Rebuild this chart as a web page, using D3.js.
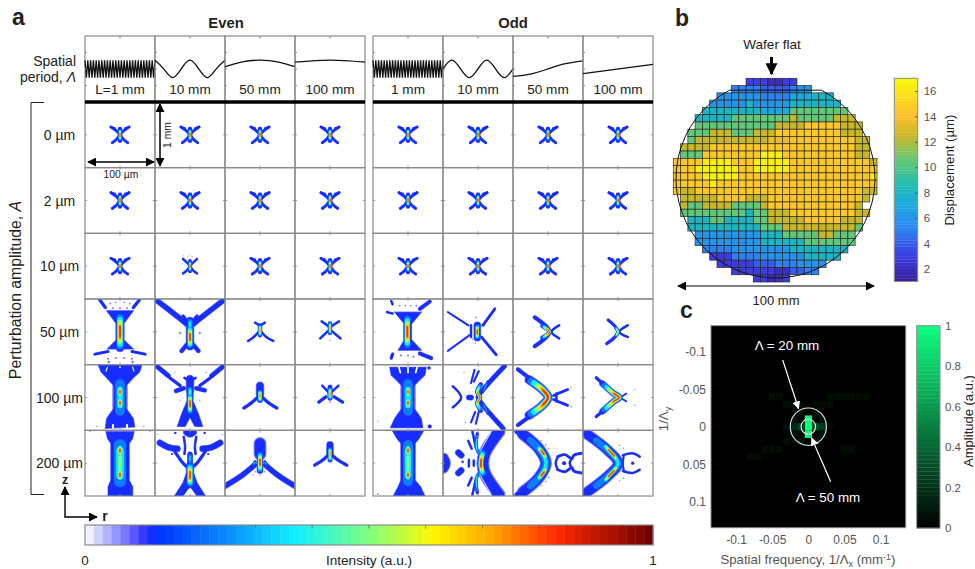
<!DOCTYPE html>
<html>
<head>
<meta charset="utf-8">
<script src="https://cdn.jsdelivr.net/npm/d3@7"></script>
<style>
  html, body { margin: 0; background: #fff; }
  svg { display: block; }
  text { font-family: "Liberation Sans", Arial, sans-serif; fill: #222; }
</style>
</head>
<body>
<script>
(function () {
  "use strict";

  // ---- panel a: column and row headings
  var evenPeriods = ['L=1 mm', '10 mm', '50 mm', '100 mm'];
  var oddPeriods = ['1 mm', '10 mm', '50 mm', '100 mm'];
  var amplitudes = ['0 µm', '2 µm', '10 µm', '50 µm', '100 µm', '200 µm'];

  // surface profiles, evenly spaced samples over the panel width
  var fineWave = [1,-1,1,-1,1,-1,1,-1,1,-1,1,-1,1,-1,1,-1,1,-1,1,-1,1,-1,1,-1,1,-1,1,-1,1,-1,1,-1,1,-1,1,-1,1,-1,1,-1,1,-1,1,-1,1,-1,1,-1,1,-1,1];
  var evenWaves = [fineWave, [1,0,-1,0,1,0,-1,0,1], [0.26,0.82,1,0.82,0.26], [0.77,1,0.77]];
  var oddWaves = [fineWave, [0,1,0,-1,0,1,0,-1,0], [-0.85,-0.6,0,0.6,0.93], [-0.55,0.52]];

  // intensity patterns: [peak intensity, width, r, z, r, z ...]
  // r in um, z in 1/100 mm, both -50..50 across a panel. width 0 = filled outline
  var xBase = [
    [0.13,3.6,-13,-12,-5,-6,0,0,5,7,11,12], [0.13,3.6,13,-12,5,-6,0,0,-5,7,-11,12],
    [0.13,2.6,-13,-12,-7,-10], [0.13,2.6,13,-12,7,-10],
    [0.13,5.5,0,-9,0,9], [0.85,5,0,-7,0,7]
  ];
  var xScatter = [
    [0.13,3,-10,-11,-4,-5,0,0,5,7,10,11], [0.13,3,10,-11,4,-5,0,0,-5,7,-10,11],
    [0.13,4.5,0,-8,0,8], [0.85,4.5,0,-6,0,6], [0.1,1.2,-3,-14], [0.1,1.2,3,-15], [0.1,1.2,0,-17], [0.1,1.2,-9,-16]
  ];

  var e50a = [
    [0.13,0,-19,-32,19,-32,14,-25,5,-12,5,12,19,26,-18,26,-5,12,-5,-12,-14,-25],
    [0.13,4,-29,-49,-21,-37], [0.13,4,28,-49,19,-37], [0.13,3.5,-36,34,-17,30], [0.13,3.5,36,34,17,30],
    [0.1,2,-14,-43], [0.1,2,-6,-45], [0.1,2,6,-45], [0.1,2,14,-43], [0.1,2.4,-10,-36], [0.1,2.4,0,-36], [0.1,2.4,10,-36],
    [0.1,2.4,-17,41], [0.1,2.4,-6,40], [0.1,2.4,6,40], [0.1,2.4,17,41], [0.1,3,-16,46], [0.1,3,18,46],
    [0.85,11,0,-24,0,24]
  ];
  var e50b = [
    [0.13,7,-49,-49,-14,-20,-5,-12], [0.13,7,49,-49,14,-20,5,-12], [0.13,4,-10,-24,-2,-14], [0.13,4,10,-24,2,-14],
    [0.13,10,0,-16,0,22], [0.13,5.5,0,14,-12,29], [0.13,5.5,0,14,12,29],
    [0.45,9,0,-17,0,-5], [0.85,9,0,-6,0,22], [0.1,2.5,-14,2], [0.1,2.5,14,2], [0.1,1.5,-10,-22], [0.1,1.5,10,-22]
  ];
  var e50c = [
    [0.13,3,-17,14,-9,8,-2,0], [0.13,3,19,14,9,8,2,0], [0.13,5,0,-10,0,5],
    [0.13,3,-7,-14,0,-9], [0.13,3,7,-14,0,-9], [0.8,5.5,0,-9,0,5], [0.1,1.5,0,9]
  ];
  var e50d = [
    [0.13,3,-12,-16,-3,-9,0,-5], [0.13,3,13,-16,3,-9,0,-5], [0.13,3,-14,10,-6,2,0,-4], [0.13,3,15,10,6,2,0,-4],
    [0.13,5,0,-12,0,1], [0.8,5,0,-13,0,2], [0.1,1.5,0,13]
  ];
  var e100a = [
    [0.13,0,-31,-49,31,-49,28,-39,19,-30,7,-16,7,14,19,32,21,45,-21,47,-19,32,-7,14,-7,-16,-19,-30,-27,-39],
    [0,3,-10,46,-10,42], [0,3,10,46,10,42], [0,2.5,0,-46], [0,1.5,-20,-40,-18,-46], [0,1.5,20,-40,18,-46],
    [0.1,1.5,-33,44], [0.1,1.5,34,44], [0.45,18,0,-26,0,26], [0.85,7,0,-14,0,-3], [0.85,7,0,3,0,14]
  ];
  var e100b = [
    [0.13,6,-48,-48,-31,-33], [0.13,6,48,-48,31,-33], [0.13,4,-29,-30,-14,-18], [0.13,4,29,-30,14,-18],
    [0.13,5.5,-20,-10,-9,-14], [0.13,5.5,21,-11,9,-14], [0.13,10,0,-28,0,-10], [0.13,3,-8,-30,0,-24], [0.13,3,8,-30,0,-24],
    [0.13,8,0,-14,0,10], [0.13,0,-4,5,4,5,12,25,18,44,7,44,0,30,-7,44,-18,44,-12,25],
    [0.5,8,0,-14,0,-3], [0.85,8,0,-3,0,22], [0.1,1.5,-22,-38], [0.1,1.5,23,-38], [0.1,1.5,-14,4], [0.1,1.5,14,4]
  ];
  var e100c = [
    [0.13,10,0,-18,0,-4], [0.13,4,-23,16,-11,7,-2,-2], [0.13,4,24,16,11,7,2,-2], [0.8,7,0,-9,0,4], [0.1,2,0,7]
  ];
  var e100d = [
    [0.13,3,-11,-18,-2,-8], [0.13,3,12,-18,2,-8], [0.13,4,-16,7,-6,-1], [0.13,4,18,7,6,-1],
    [0.13,6,0,-16,0,0], [0.8,6,0,-13,0,1], [0.1,2,0,7]
  ];
  var e200a = [
    [0.13,0,-20,-48,20,-48,18,-38,13,-30,13,26,18,36,18,50,-17,50,-17,36,-13,26,-13,-30,-18,-38],
    [0.1,1.5,-43,-48], [0.1,1.5,43,-48], [0.5,22,0,-34,0,34], [0.85,8,0,-25,0,-13], [0.85,8,0,12,0,24]
  ];
  var e200b = [
    [0.13,8,-43,-31,-30,-24,-18,-22], [0.13,8,43,-31,30,-24,18,-22], [0.13,4,-22,-18,-10,0,-4,6], [0.13,4,22,-18,10,0,4,6],
    [0.13,8,-5,-47,0,-44,5,-47], [0.22,3,-9,-40,-7,-25,-8,-14], [0.22,3,9,-40,7,-25,8,-14], [0.13,7,0,-12,0,10],
    [0.13,0,-5,15,5,15,10,30,22,50,10,50,0,35,-10,50,-22,50,-10,30],
    [0.4,6,0,-14,0,0], [0.85,10,0,4,0,32], [0.13,3,-21,-46], [0.13,3,21,-46], [0.1,1.5,-46,-44], [0.1,1.5,46,-44], [0.13,2.5,-26,-14], [0.13,2.5,26,-14]
  ];
  var e200c = [
    [0.13,15,0,-30,0,-14], [0.13,7,-50,35,-25,18,-8,3], [0.13,7,50,35,25,18,8,3], [0.85,8,0,-14,0,11],
    [0.4,4,-7,-2,-9,2], [0.4,4,7,-2,9,2], [0.1,1.8,-7,13], [0.1,1.8,0,18], [0.1,1.8,7,13], [0.1,1.8,-10,18]
  ];
  var e200d = [
    [0.13,9,0,-28,0,-14], [0.13,4,-22,3,-10,-5,-2,-13], [0.13,4,24,3,11,-5,2,-13], [0.8,6,0,-22,0,-5]
  ];
  var o50a = [
    [0.13,0,-19,-30,19,-30,5,-12,5,12,19,28,-14,28,-5,12,-5,-12],
    [0.13,5,31,-46,17,-35], [0.13,3,-30,-30,-22,-28], [0.13,3,-24,-47,-22,-42], [0.13,5,17,33,33,40], [0.13,4,-24,40,-22,34],
    [0.1,2,-12,-40], [0.1,2,-4,-40], [0.1,2,4,-40], [0.1,2,12,-40], [0.1,2.4,-10,36], [0.1,2.4,0,36], [0.1,2.4,8,38],
    [0.85,10,-1,-22,-1,22]
  ];
  var o50b = [
    [0.13,2.5,-43,-30,-14,-10], [0.13,2.5,-43,29,-12,5], [0.13,3,-10,-10,-10,8], [0.13,3.5,24,-35,7,-10], [0.13,3.5,26,35,5,8],
    [0.13,9,-1,-10,-1,9], [0.85,6.5,-1,-9,-1,9], [0.1,1.8,-3,-22], [0.1,1.8,-8,11], [0.1,1.8,-4,17]
  ];
  var o50c = [
    [0.13,5,-19,-22,2,0,-19,22], [0.13,3,16,-10,5,0,16,10], [0.85,5.5,-8,-9,2,0,-8,9]
  ];
  var o50d = [
    [0.13,4,-14,-18,0,0,-16,18], [0.13,3,14,-10,2,0,14,8], [0.8,4.5,-3,-6,0,0,-3,6]
  ];
  var o100a = [
    [0.13,0,-26,-46,26,-46,24,-34,18,-28,7,-16,7,14,19,32,21,46,-25,46,-19,32,-7,14,-7,-16,-18,-28,-24,-34],
    [0,2.5,-13,-46,-11,-38], [0,2.5,0,-46,0,-38], [0,2.5,13,-46,11,-38], [0.13,4,30,-45], [0.13,5,31,44], [0.1,1.5,-43,36],
    [0.45,18,0,-26,0,26], [0.85,6.5,0,-14,0,-3], [0.85,6.5,0,3,0,14]
  ];
  var o100b = [
    [0.13,6,38,-48,5,-9,0,0,5,9,36,47], [0.13,3,-36,-17,-24,0,-36,15], [0.13,7,-13,0,-10,0],
    [0.13,2.5,-5,-42,-10,-22], [0.13,2.5,1,-40,-6,-24], [0.13,2.5,-10,38,-4,22], [0.13,2.5,-3,40,1,22], [0.1,1.5,-20,-38], [0.1,1.5,-18,38],
    [0.4,2.5,14,-25,7,-8], [0.4,2.5,14,25,7,8], [0.85,5.5,4,-20,-1,-8,3,0,-1,8,4,20]
  ];
  var o100c = [
    [0.13,5,-43,-43,-20,-24], [0.13,5,-43,42,-20,24], [0.88,11,-27,-27,-8,-12,0,0,-8,12,-27,27],
    [0.13,3.5,28,-12,14,-6,8,-3], [0.13,3.5,28,12,14,6,8,3], [0.13,3,12,-6,12,6], [0.1,1.6,33,-15], [0.1,1.6,33,14]
  ];
  var o100d = [
    [0.13,4,-31,-30,-20,-19], [0.13,4,-31,29,-20,19], [0.85,8,-22,-21,-6,-6,2,0,-6,6,-22,21],
    [0.13,2,12,-6,6,-2], [0.13,2,12,6,6,2], [0.1,1.5,24,-12], [0.1,1.5,24,12]
  ];
  var o200a = [
    [0.13,0,-22,-49,22,-49,16,-38,10,-30,10,26,18,36,24,50,-21,50,-14,36,-10,26,-10,-30,-16,-38],
    [0.1,2,-43,47], [0.5,18,0,-34,0,34], [0.85,7,0,-25,0,-13], [0.85,7,0,12,0,24]
  ];
  var o200b = [
    [0.13,12,-49,-8,-46,0,-49,8], [0.13,8,-28,-16,-24,-12], [0.13,8,-28,15,-24,11], [0.13,3,-13,-5,-13,5], [0.13,3,-6,-4,-6,4],
    [0.13,3,-22,-2], [0.13,3,-8,-48,-3,-24], [0.13,3,-8,48,-3,24], [0.13,3,-14,-34,-9,-22], [0.13,3,-14,34,-9,22],
    [0.13,15,30,-48,10,-16,7,0,10,16,30,48], [0.45,4,-1,-45,-2,-22,4,-12], [0.45,4,-1,45,-2,22,4,12], [0,1.2,18,-46,2,-16], [0,1.2,18,46,2,16],
    [0.85,9,7,-17,4,0,7,17]
  ];
  var o200c = [
    [0.13,9,-43,-49,-18,-28], [0.13,9,-43,49,-18,28], [0.4,14,-36,-44,-13,-22,-3,0,-13,22,-36,44],
    [0.88,7,-14,-24,-6,-14,-3,-7], [0.88,7,-14,24,-6,14,-3,7],
    [0.13,3.5,14,-10,24,-13,34,-7,37,-12,48,-15], [0.13,3.5,14,10,24,13,34,7,37,12,48,15],
    [0.13,3,14,-10,11,0,14,10], [0.13,3,34,-7,31,0,34,7], [0.13,5,23,0],
    [0.1,1.8,-10,-34], [0.1,1.8,-3,-28], [0.1,1.8,-10,34], [0.1,1.8,-3,28], [0.1,1.8,1,-22], [0.1,1.8,1,22]
  ];
  var o200d = [
    [0.13,8,-50,-50,-22,-28], [0.13,8,-50,49,-22,28], [0.4,13,-44,-44,-15,-20,0,0,-15,20,-44,44],
    [0.88,6.5,-20,-28,-5,-10,0,-3], [0.88,6.5,-20,28,-5,10,0,3],
    [0.13,3,7,-12,21,-15,31,-10], [0.13,3,7,12,21,15,31,10], [0.13,2.5,8,-10,7,0,8,10], [0.13,4,21,0],
    [0.1,1.6,2,-27], [0.1,1.6,8,-23], [0.1,1.6,2,27], [0.1,1.6,8,23]
  ];

  var evenPatterns = [
    [xBase, xBase, xBase, xBase],
    [xBase, xBase, xBase, xBase],
    [xBase, xScatter, xBase, xBase],
    [e50a, e50b, e50c, e50d],
    [e100a, e100b, e100c, e100d],
    [e200a, e200b, e200c, e200d]
  ];
  var oddPatterns = [
    [xBase, xBase, xBase, xBase],
    [xBase, xBase, xBase, xBase],
    [xBase, xBase, xBase, xBase],
    [o50a, o50b, o50c, o50d],
    [o100a, o100b, o100c, o100d],
    [o200a, o200b, o200c, o200d]
  ];

  // intensity colour map
  var jetStops = [0, 0.11, 0.125, 0.25, 0.37, 0.5, 0.61, 0.72, 0.83, 1];
  var jetColors = ['#ffffff', '#2a2aff', '#0030ff', '#0a8cff', '#10f0ff', '#80ff80', '#fcf800', '#ffa400', '#ff2800', '#6a0000'];
  var intensityTicks = [0.1, 0.2, 0.3, 0.4, 0.5, 0.6, 0.7, 0.8, 0.9];

  // ---- panel b: wafer displacement, per row [first column, value, run, value, run ...]
  var waferRows = [
    [10, 3,3, 2,2, 3,2],
    [8, 5,4, 4,4, 5,1, 6,2],
    [6, 6,6, 5,4, 7,3, 8,3],
    [5, 6,5, 8,1, 6,5, 8,7],
    [4, 8,8, 7,4, 10.5,8],
    [3, 8,5, 10.5,8, 12.5,1, 10.5,5, 12.5,3],
    [3, 10.5,11, 12.5,4, 14.5,5, 12.5,3],
    [2, 10.5,3, 12.5,3, 10.5,3, 12.5,3, 14.5,9, 12.5,3],
    [2, 10.5,1, 12.5,10, 13.5,3, 14.5,9, 12.5,2],
    [1, 12.5,4, 14.5,20, 12.5,2],
    [1, 10.5,3, 14.5,8, 16.5,3, 14.5,10, 12.5,2],
    [0, 14.5,4, 16.5,4, 14.5,3, 16.5,5, 14.5,11, 12.5,1],
    [0, 14.5,3, 16.5,6, 14.5,2, 16.5,5, 14.5,12],
    [0, 14.5,4, 16.5,5, 14.5,18, 16.5,1],
    [0, 14.5,5, 16.5,1, 14.5,22],
    [0, 14.5,1, 12.5,2, 14.5,23, 12.5,2],
    [1, 12.5,5, 14.5,4, 12.5,3, 14.5,13, 12.5,1],
    [1, 12.5,1, 10.5,2, 12.5,4, 10.5,4, 12.5,1, 14.5,12, 12.5,1],
    [1, 10.5,9, 8,1, 10.5,2, 12.5,3, 14.5,9, 12.5,2],
    [2, 8,3, 10.5,2, 8,4, 10.5,2, 12.5,5, 14.5,5, 12.5,3],
    [2, 8,10, 10.5,3, 12.5,10, 10.5,1],
    [3, 6,9, 8,3, 10.5,5, 12.5,2, 10.5,3],
    [3, 6,9, 8,6, 10.5,7],
    [4, 5,4, 6,8, 8,8],
    [5, 3,3, 5,4, 6,6, 8,5],
    [6, 3,5, 4,3, 5,3, 6,4],
    [8, 3,6, 2,2, 4,2, 5,2],
    [11, 3,2, 2,2, 3,1]
  ];
  var waferStops = [1, 3, 5, 7, 8.5, 10.5, 12.5, 14, 15, 17];
  var waferColors = ['#35209a', '#3c3ce0', '#2f80f0', '#1ca8e0', '#1cbcb4', '#60c878', '#c8b828', '#fcbe30', '#fcd020', '#f8fa08'];
  var waferTicks = [2, 4, 6, 8, 10, 12, 14, 16];
  var waferDiameter = 100, waferFlatHalf = 23;   // mm

  // ---- panel c: spectrum, only cells above the black floor
  var specFx = [0,0,0,-0.02,-0.01,0.01,0.02,-0.01,0.01,-0.02,0.02,-0.02,0.02,-0.01,0.01,-0.03,0.03,-0.02,-0.01,0.01,0.02,0.03,-0.05,-0.04,-0.03,0.03,0.04,0.05,0.06,0.07,0.08,-0.08,-0.07,-0.06,-0.05,-0.04,-0.03,0.05,0.06,-0.09,0.1,-0.1,0.09,-0.06,0.07];
  var specFy = [-0.01,0,0.01,0,0,0,0,-0.02,-0.02,-0.01,-0.01,0.01,0.01,0.02,0.02,0,0,-0.03,-0.03,-0.03,-0.03,-0.03,-0.04,-0.04,-0.03,-0.04,-0.04,-0.04,-0.04,-0.04,-0.04,0.04,0.04,0.03,0.03,0.03,0.02,0.03,0.03,-0.07,-0.07,0.07,0.07,-0.03,0.03];
  var specAmp = [1,1,1,0.16,0.26,0.3,0.22,0.07,0.07,0.07,0.07,0.07,0.07,0.08,0.08,0.06,0.05,0.04,0.04,0.04,0.04,0.04,0.03,0.03,0.03,0.03,0.03,0.03,0.03,0.03,0.03,0.03,0.03,0.03,0.03,0.03,0.04,0.03,0.03,0.02,0.02,0.02,0.02,0.025,0.025];
  var specTicks = [-0.1, -0.05, 0, 0.05, 0.1];
  var ampTicks = [0, 0.2, 0.4, 0.6, 0.8, 1];
  var ringPeriods = [20, 50];

  var width = 975, height = 569;
  var frame = '#8a8a8a', tickText = '#555';

  var svg = d3.select('body').append('svg').attr('width', width).attr('height', height);
  var defs = svg.append('defs');
  defs.append('filter').attr('id', 'soft').attr('filterUnits', 'userSpaceOnUse')
      .attr('x', -10).attr('y', -10).attr('width', 95).attr('height', 90)
    .append('feGaussianBlur').attr('stdDeviation', 0.38);
  defs.append('filter').attr('id', 'softSpec').attr('x', '-20%').attr('y', '-20%').attr('width', '140%').attr('height', '140%')
    .append('feGaussianBlur').attr('stdDeviation', 0.6);
  function arrowMarker(id, size, color) {
    defs.append('marker').attr('id', id).attr('viewBox', '0 0 10 10').attr('refX', 9).attr('refY', 5)
        .attr('markerUnits', 'userSpaceOnUse').attr('markerWidth', size).attr('markerHeight', size).attr('orient', 'auto-start-reverse')
      .append('path').attr('d', 'M0,0L10,5L0,10Z').attr('fill', color);
  }
  arrowMarker('head', 9, '#000');
  arrowMarker('headW', 8, '#fff');
  arrowMarker('headL', 12, '#000');

  function label(x, y, str, size, anchor, weight) {
    return svg.append('text').attr('x', x).attr('y', y).attr('font-size', size)
      .attr('text-anchor', anchor || 'middle').attr('font-weight', weight || 'normal').text(str);
  }
  function vlabel(x, y, str, size) {
    return svg.append('text').attr('transform', 'translate(' + x + ',' + y + ') rotate(-90)')
      .attr('font-size', size).attr('text-anchor', 'middle').text(str);
  }
  function arrow(x1, y1, x2, y2, both, white, w) {
    var l = svg.append('line').attr('x1', x1).attr('y1', y1).attr('x2', x2).attr('y2', y2)
      .attr('stroke', white ? '#fff' : '#000').attr('stroke-width', w || 1.3)
      .attr('marker-end', white ? 'url(#headW)' : 'url(#head)');
    if (both) { l.attr('marker-start', 'url(#head)'); }
    return l;
  }

  // ---- panel a
  var rowScale = d3.scaleBand().domain(amplitudes).range([102, 496]);
  var topY = d3.scaleLinear().domain([-1, 1]).range([77.6, 60.2]);
  var jet = d3.scaleLinear().domain(jetStops).range(jetColors).interpolate(d3.interpolateRgb);
  var jetSteps = 64;
  var jetQuant = function (v) { return jet((Math.min(jetSteps - 1, Math.floor(v * jetSteps)) + 0.5) / jetSteps); };
  var layerLevels = [0.07, 0.12, 0.22, 0.36, 0.5, 0.62, 0.72, 0.82];
  var rScale = d3.scaleLinear().domain([-50, 50]);
  var zScale = d3.scaleLinear().domain([-50, 50]);

  function pairs(flat) {
    var out = [];
    for (var i = 0; i < flat.length; i += 2) { out.push([flat[i], flat[i + 1]]); }
    if (out.length === 1) { out.push([out[0][0] + 0.01, out[0][1]]); }
    return out;
  }

  // each level is drawn across the whole pattern, lowest first, like filled contours
  function drawPattern(g, pattern, pathGen, polyGen, k) {
    layerLevels.forEach(function (lvl) {
      pattern.forEach(function (ridge) {
        var peak = ridge[0], w = ridge[1], pts = pairs(ridge.slice(2));
        if (peak < 0.07 || lvl > peak) { return; }
        if (w === 0) {
          var poly = g.append('path').attr('d', polyGen(pts)).attr('fill', jetQuant(lvl));
          if (lvl < 0.12) { poly.attr('stroke', jetQuant(lvl)).attr('stroke-width', 1.2); }
          return;
        }
        var t = lvl <= 0.12 ? 0 : (lvl - 0.12) / (peak - 0.12);
        var wf = lvl < 0.12 ? 1.22 : 1 - 0.78 * t;
        var lf = 1 - 0.72 * t;
        var p = g.append('path').attr('d', pathGen(pts)).attr('fill', 'none')
          .attr('stroke', jetQuant(lvl)).attr('stroke-width', w * wf * k)
          .attr('stroke-linecap', 'round').attr('stroke-linejoin', 'round');
        if (lf < 1) {
          p.attr('pathLength', 100)
            .attr('stroke-dasharray', (100 * lf) + ' ' + (100 - 100 * lf))
            .attr('stroke-dashoffset', -(100 - 100 * lf) / 2);
        }
      });
      if (lvl === 0.12) {
        pattern.forEach(function (ridge) {
          if (ridge[0] >= 0.07) { return; }
          g.append('path').attr('d', pathGen(pairs(ridge.slice(2)))).attr('fill', 'none').attr('stroke', '#fff')
            .attr('stroke-width', ridge[1] * k).attr('stroke-linecap', 'round');
        });
      }
    });
  }

  function drawBlock(periods, waves, patterns, x0, x1, blockId) {
    var colScale = d3.scaleBand().domain(periods).range([x0, x1]);
    var bw = colScale.bandwidth(), rh = rowScale.bandwidth();
    rScale.range([0, bw]);
    zScale.range([0, rh]);
    var pathGen = d3.line().x(function (d) { return rScale(d[0]); }).y(function (d) { return zScale(d[1]); }).curve(d3.curveCatmullRom);
    var polyGen = d3.line().x(function (d) { return rScale(d[0]); }).y(function (d) { return zScale(d[1]); }).curve(d3.curveLinearClosed);
    var k = bw / 100;

    periods.forEach(function (period, c) {
      var px = colScale(period);
      // profile strip
      svg.append('rect').attr('x', px).attr('y', 36).attr('width', bw).attr('height', 66)
        .attr('fill', 'none').attr('stroke', frame).attr('stroke-width', 1.2);
      var wave = waves[c];
      var waveX = d3.scaleLinear().domain([0, wave.length - 1]).range([px, px + bw]);
      svg.append('path')
        .attr('d', d3.line().x(function (d, i) { return waveX(i); }).y(function (d) { return topY(d); })
          .curve(wave.length > 20 ? d3.curveLinear : d3.curveNatural)(wave))
        .attr('fill', 'none').attr('stroke', '#111').attr('stroke-width', 1.3);
      label(px + bw / 2, 94, period, 13.6);
      svg.append('line').attr('x1', px + bw / 2).attr('x2', px + bw / 2).attr('y1', 36).attr('y2', 38.5).attr('stroke', frame);
      [0.25, 0.5, 0.75].forEach(function (f) {
        svg.append('line').attr('x1', px).attr('x2', px + 2).attr('y1', 36 + 66 * f).attr('y2', 36 + 66 * f).attr('stroke', frame);
      });

      amplitudes.forEach(function (amp, r) {
        var py = rowScale(amp);
        var clipId = 'clip' + blockId + c + r;
        defs.append('clipPath').attr('id', clipId).append('rect').attr('width', bw).attr('height', rh);
        var g = svg.append('g').attr('transform', 'translate(' + px + ',' + py + ')');
        var inner = g.append('g').attr('clip-path', 'url(#' + clipId + ')').append('g').attr('filter', 'url(#soft)');
        drawPattern(inner, patterns[r][c], pathGen, polyGen, k);
        g.append('rect').attr('width', bw).attr('height', rh).attr('fill', 'none')
          .attr('stroke', frame).attr('stroke-width', 1.2);
        [[bw / 2, 0, bw / 2, 2.2], [bw / 2, rh, bw / 2, rh - 2.2], [0, rh / 2, 2.2, rh / 2], [bw, rh / 2, bw - 2.2, rh / 2]].forEach(function (t) {
          g.append('line').attr('x1', t[0]).attr('y1', t[1]).attr('x2', t[2]).attr('y2', t[3]).attr('stroke', frame).attr('stroke-width', 0.8);
        });
      });
    });
    svg.append('line').attr('x1', x0).attr('x2', x1).attr('y1', 102).attr('y2', 102).attr('stroke', '#000').attr('stroke-width', 3.4);
  }

  drawBlock(evenPeriods, evenWaves, evenPatterns, 85, 365, 'e');
  drawBlock(oddPeriods, oddWaves, oddPatterns, 373, 653, 'o');

  label(12, 25, 'a', 23, 'start', 'bold');
  label(226, 28, 'Even', 14.8, 'middle', 'bold');
  label(513, 28, 'Odd', 14.8, 'middle', 'bold');
  label(76, 66, 'Spatial', 14, 'end');
  var periodLabel = label(76, 82, 'period, ', 14, 'end');
  periodLabel.append('tspan').attr('font-style', 'italic').text('Λ');

  amplitudes.forEach(function (amp) {
    label(59.5, rowScale(amp) + rowScale.bandwidth() / 2 + 5.2, amp, 14);
  });
  var ampLabel = vlabel(21, 290, 'Perturbation amplitude, ', 15.8);
  ampLabel.append('tspan').attr('font-style', 'italic').text('A');
  svg.append('path').attr('d', 'M44,102.5H31V494.5H44').attr('fill', 'none').attr('stroke', '#222').attr('stroke-width', 1);

  arrow(88, 162, 154, 162, true, false, 1.5);
  arrow(160, 104, 160, 166, true, false, 1.5);
  label(121, 178, '100 µm', 10.4);
  vlabel(171, 135, '1 mm', 10.4);

  // z / r axes
  svg.append('path').attr('d', 'M65,517V487').attr('stroke', '#000').attr('stroke-width', 1.4).attr('marker-end', 'url(#head)').attr('fill', 'none');
  svg.append('path').attr('d', 'M64.3,517H97').attr('stroke', '#000').attr('stroke-width', 1.4).attr('marker-end', 'url(#head)').attr('fill', 'none');
  label(65, 484, 'z', 12.5, 'middle', 'bold');
  label(105, 521, 'r', 14, 'middle', 'bold');

  // intensity bar
  var barX = d3.scaleLinear().domain([0, 1]).range([85, 653]);
  svg.append('g').selectAll('rect').data(d3.range(jetSteps)).enter().append('rect')
    .attr('x', function (d) { return barX(d / jetSteps); })
    .attr('y', 525).attr('height', 20)
    .attr('width', barX(1 / jetSteps) - barX(0) + 0.4)
    .attr('fill', function (d) { return jetQuant((d + 0.5) / jetSteps); });
  svg.append('rect').attr('x', 85).attr('y', 525).attr('width', 568).attr('height', 20)
    .attr('fill', 'none').attr('stroke', frame).attr('stroke-width', 1.2);
  svg.append('g').selectAll('line').data(intensityTicks).enter().append('line')
    .attr('x1', barX).attr('x2', barX).attr('y1', 525).attr('y2', 528.5)
    .attr('stroke', '#555').attr('stroke-width', 0.7);
  label(85, 565, '0', 13.4);
  label(653, 565, '1', 13.4);
  label(369, 565, 'Intensity (a.u.)', 13.6);

  // ---- panel b
  var waferX = d3.scaleBand().domain(d3.range(28)).range([673.3, 877]);
  var waferY = d3.scaleBand().domain(d3.range(28)).range([78.3, 282]);
  var waferColor = d3.scaleLinear().domain(waferStops).range(waferColors);
  var waferCells = [];
  waferRows.forEach(function (row, j) {
    var col = row[0];
    for (var i = 1; i < row.length; i += 2) {
      for (var n = 0; n < row[i + 1]; n++) { waferCells.push({ row: j, col: col++, v: row[i] }); }
    }
  });
  svg.append('g').selectAll('rect').data(waferCells).enter().append('rect')
    .attr('x', function (d) { return waferX(d.col); })
    .attr('y', function (d) { return waferY(d.row); })
    .attr('width', waferX.bandwidth()).attr('height', waferY.bandwidth())
    .attr('fill', function (d) { return waferColor(d.v); })
    .attr('stroke', '#222').attr('stroke-opacity', 0.85).attr('stroke-width', 0.75);

  // wafer outline, circle with the flat on top
  var waferMmX = d3.scaleLinear().domain([-waferDiameter / 2, waferDiameter / 2]).range([676, 875]);
  var waferMmY = d3.scaleLinear().domain([-waferDiameter / 2, waferDiameter / 2]).range([79, 278]);
  var wr = waferMmX(waferDiameter / 2) - waferMmX(0);
  var flatZ = -Math.sqrt(Math.pow(waferDiameter / 2, 2) - Math.pow(waferFlatHalf, 2));
  svg.append('path')
    .attr('d', 'M' + waferMmX(-waferFlatHalf) + ',' + waferMmY(flatZ) + 'A' + wr + ',' + wr + ' 0 1,0 ' + waferMmX(waferFlatHalf) + ',' + waferMmY(flatZ) + 'Z')
    .attr('fill', 'none').attr('stroke', '#111').attr('stroke-width', 1);

  label(675, 26, 'b', 23, 'start', 'bold');
  label(772, 48.5, 'Wafer flat', 13.6);
  svg.append('line').attr('x1', 771.5).attr('x2', 771.5).attr('y1', 57).attr('y2', 74)
    .attr('stroke', '#000').attr('stroke-width', 3).attr('marker-end', 'url(#headL)');
  arrow(678, 286, 874, 286, true, false, 1.2);
  label(776, 305, '100 mm', 13);

  var wbarY = d3.scaleLinear().domain([1, 17]).range([281.5, 78.3]);
  svg.append('g').selectAll('rect').data(d3.range(1, 17, 0.25)).enter().append('rect')
    .attr('x', 894.3).attr('width', 23.4)
    .attr('y', function (d) { return wbarY(d + 0.25); })
    .attr('height', wbarY(1) - wbarY(1.25) + 0.3)
    .attr('fill', function (d) { return waferColor(d + 0.125); });
  svg.append('rect').attr('x', 894.3).attr('y', 78.3).attr('width', 23.4).attr('height', 203.2)
    .attr('fill', 'none').attr('stroke', frame);
  var wAxis = svg.append('g').attr('transform', 'translate(917.7,0)')
    .call(d3.axisRight(wbarY).tickValues(waferTicks).tickSize(-2.5).tickPadding(6));
  wAxis.select('.domain').remove();
  wAxis.selectAll('line').attr('stroke', '#555');
  wAxis.selectAll('text').attr('font-size', 11.5).style('fill', tickText).attr('font-family', 'Liberation Sans');
  vlabel(954, 170, 'Displacement (µm)', 13.2);

  // ---- panel c
  var fxScale = d3.scaleLinear().domain([-0.1347, 0.1347]).range([711, 905.7]);
  var fyScale = d3.scaleLinear().domain([-0.1347, 0.1347]).range([325.7, 527.7]);
  var ampColor = d3.scaleLinear().domain([0, 1]).range(['#000000', '#10ff80']);
  svg.append('rect').attr('x', fxScale.range()[0]).attr('y', fyScale.range()[0])
    .attr('width', fxScale.range()[1] - fxScale.range()[0]).attr('height', fyScale.range()[1] - fyScale.range()[0])
    .attr('fill', '#000').attr('stroke', frame);
  var specG = svg.append('g').attr('filter', 'url(#softSpec)');
  specG.selectAll('rect').data(specAmp).enter().append('rect')
    .attr('x', function (d, i) { return fxScale(specFx[i] - 0.005); })
    .attr('y', function (d, i) { return fyScale(specFy[i] - 0.005); })
    .attr('width', fxScale(0.01) - fxScale(0))
    .attr('height', fyScale(0.01) - fyScale(0))
    .attr('fill', function (d) { return ampColor(d); });

  ringPeriods.forEach(function (p) {
    var rf = (1 / p) / 2;
    svg.append('ellipse').attr('cx', fxScale(0)).attr('cy', fyScale(0))
      .attr('rx', fxScale(rf) - fxScale(0)).attr('ry', fyScale(rf) - fyScale(0))
      .attr('fill', 'none').attr('stroke', '#e4e4e4').attr('stroke-width', 1.1);
  });
  arrow(782.7, 360, 798.5, 408.5, false, true, 1.2);
  arrow(830.7, 481.7, 811.7, 438.3, false, true, 1.2);
  label(787, 349.5, 'Λ = 20 mm', 13.4).style('fill', '#fff');
  label(828, 501.5, 'Λ = 50 mm', 13.4).style('fill', '#fff');

  function fmtSpec(d) { return d === 0 ? '0' : String(d); }
  var cxAxis = svg.append('g').attr('transform', 'translate(0,527.7)')
    .call(d3.axisBottom(fxScale).tickValues(specTicks).tickSize(0).tickPadding(8).tickFormat(fmtSpec));
  var cyAxis = svg.append('g').attr('transform', 'translate(711,0)')
    .call(d3.axisLeft(fyScale).tickValues(specTicks).tickSize(0).tickPadding(5).tickFormat(fmtSpec));
  [cxAxis, cyAxis].forEach(function (a) {
    a.select('.domain').remove();
    a.selectAll('text').attr('font-size', 12).style('fill', tickText).attr('font-family', 'Liberation Sans');
  });
  var xl = label(808, 564, 'Spatial frequency, 1/Λ', 13.2);
  xl.style('fill', '#555');
  xl.append('tspan').attr('dy', 3).attr('font-size', 9).text('x');
  xl.append('tspan').attr('dy', -3).text(' (mm');
  xl.append('tspan').attr('dy', -4).attr('font-size', 9).text('-1');
  xl.append('tspan').attr('dy', 4).text(')');
  var yl = vlabel(668, 419, '1/Λ', 13.2);
  yl.style('fill', '#555');
  yl.append('tspan').attr('dy', 3).attr('font-size', 9).text('y');

  label(680, 318, 'c', 23, 'start', 'bold');

  var abarY = d3.scaleLinear().domain([0, 1]).range([528, 325.7]);
  svg.append('g').selectAll('rect').data(d3.range(0, 1, 0.02)).enter().append('rect')
    .attr('x', 916.7).attr('width', 23.3)
    .attr('y', function (d) { return abarY(d + 0.02); })
    .attr('height', abarY(0) - abarY(0.02) + 0.3)
    .attr('fill', function (d) { return ampColor(d + 0.01); });
  svg.append('rect').attr('x', 916.7).attr('y', 325.7).attr('width', 23.3).attr('height', 202.3)
    .attr('fill', 'none').attr('stroke', frame);
  var aAxis = svg.append('g').attr('transform', 'translate(940,0)')
    .call(d3.axisRight(abarY).tickValues(ampTicks).tickSize(0).tickPadding(5).tickFormat(function (d) { return String(d); }));
  aAxis.select('.domain').remove();
  aAxis.selectAll('text').attr('font-size', 11.5).style('fill', tickText).attr('font-family', 'Liberation Sans');
  vlabel(974, 421, 'Amplitude (a.u.)', 13).attr('dy', -1);
}());
</script>
</body>
</html>
